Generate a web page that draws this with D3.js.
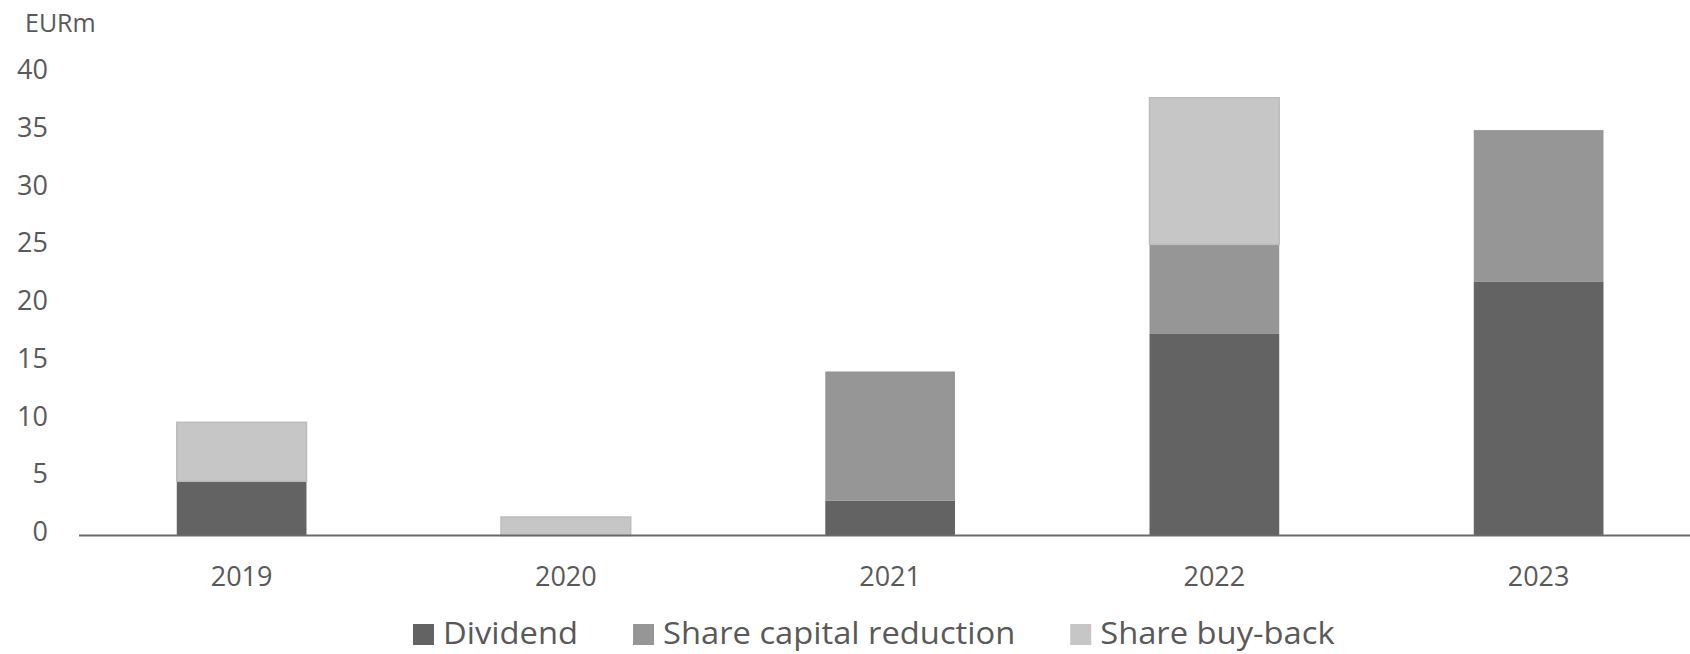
<!DOCTYPE html>
<html>
<head>
<meta charset="utf-8">
<script src="https://cdn.jsdelivr.net/npm/d3@7"></script>
<style>
  html, body { margin: 0; padding: 0; background: #fff; }
  svg { display: block; }
  text { font-family: "Open Sans", Lato, sans-serif; fill: #595959; }
</style>
</head>
<body>
<svg id="chart" width="1690" height="654"></svg>
<script>
const years = ["2019", "2020", "2021", "2022", "2023"];
const dividend = [4.7, 0, 3.0, 17.5, 22.0];
const shareCapitalReduction = [0, 0, 11.2, 7.7, 13.1];
const shareBuyBack = [5.1, 1.6, 0, 12.7, 0];
const seriesNames = ["Dividend", "Share capital reduction", "Share buy-back"];
const seriesColors = ["#636363", "#969696", "#c6c6c6"];
const yTicks = [0, 5, 10, 15, 20, 25, 30, 35, 40];
const unitLabel = "EURm";

const svg = d3.select("#chart");
const x = d3.scaleBand().domain(years).range([79.5, 1700.75]).paddingInner(0.6).paddingOuter(0.3);
const y = d3.scaleLinear().domain([0, 40]).range([535.5, 73.5]);

const rows = years.map((yr, i) => ({
  year: yr,
  "Dividend": dividend[i],
  "Share capital reduction": shareCapitalReduction[i],
  "Share buy-back": shareBuyBack[i]
}));
const stacked = d3.stack().keys(seriesNames)(rows);

stacked.forEach((s, si) => {
  svg.append("g").selectAll("rect").data(s).join("rect")
    .attr("x", d => x(d.data.year))
    .attr("width", x.bandwidth())
    .attr("y", d => y(d[1]))
    .attr("height", d => y(d[0]) - y(d[1]))
    .attr("fill", seriesColors[si])
    .attr("stroke", si === 2 ? "#bcbcbc" : "none")
    .attr("stroke-width", si === 2 ? 1.5 : 0)
    .style("display", d => (d[1] - d[0]) > 0 ? null : "none");
});

// x axis line
svg.append("line")
  .attr("x1", 79).attr("x2", 1690)
  .attr("y1", y(0)).attr("y2", y(0))
  .attr("stroke", "#6a6a6a").attr("stroke-width", 2);

// x labels
svg.append("g").selectAll("text").data(years).join("text")
  .attr("x", d => x(d) + x.bandwidth() / 2)
  .attr("y", 585.5)
  .attr("text-anchor", "middle")
  .attr("font-size", 27)
  .text(d => d);

// y labels
svg.append("g").selectAll("text").data(yTicks).join("text")
  .attr("x", 48)
  .attr("y", d => y(d) + 5.5)
  .attr("text-anchor", "end")
  .attr("font-size", 27)
  .text(d => d);

svg.append("text")
  .attr("x", 25).attr("y", 32)
  .attr("font-size", 25)
  .text(unitLabel);

// legend
const lg = svg.append("g");
let lx = 413;
seriesNames.forEach((name, i) => {
  lg.append("rect").attr("x", lx).attr("y", 624).attr("width", 21).attr("height", 21)
    .attr("fill", seriesColors[i]);
  const t = lg.append("text").attr("x", lx + 30).attr("y", 644)
    .attr("font-size", 31).text(name);
  const w = t.node().getComputedTextLength() * 1.055;
  t.attr("textLength", w).attr("lengthAdjust", "spacingAndGlyphs");
  lx = lx + 30 + w + 55;
});
</script>
</body>
</html>
